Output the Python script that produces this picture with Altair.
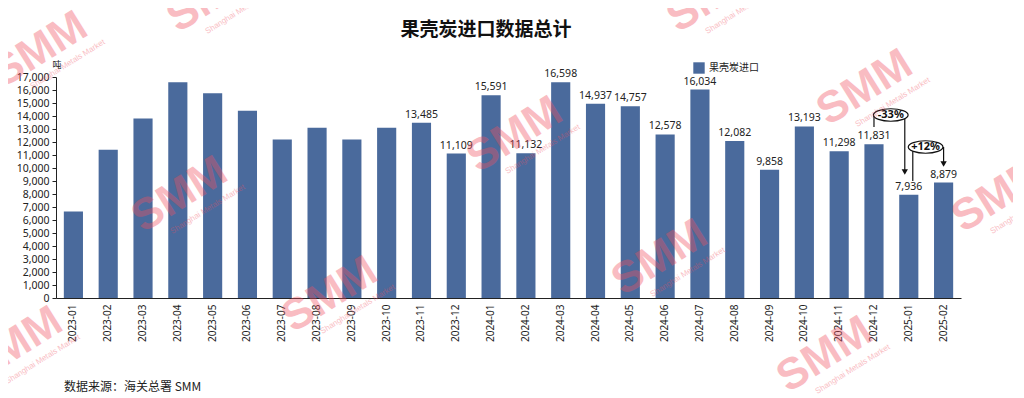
import altair as alt
import pandas as pd

months = ["2023-01", "2023-02", "2023-03", "2023-04", "2023-05", "2023-06", "2023-07",
          "2023-08", "2023-09", "2023-10", "2023-11", "2023-12", "2024-01", "2024-02",
          "2024-03", "2024-04", "2024-05", "2024-06", "2024-07", "2024-08", "2024-09",
          "2024-10", "2024-11", "2024-12", "2025-01", "2025-02"]
values = [6650, 11400, 13800, 16600, 15750, 14400, 12200, 13100, 12200, 13100, 13485,
          11109, 15591, 11132, 16598, 14937, 14757, 12578, 16034, 12082, 9858, 13193,
          11298, 11831, 7936, 8879]
labeled = [False] * 10 + [True] * 16
series_name = "果壳炭进口"
title_text = "果壳炭进口数据总计"
unit_text = "吨"
source_text = "数据来源：海关总署 SMM"
y_ticks = list(range(0, 17001, 1000))

# annotation brackets
ann_labels = ["-33%", "+12%"]
ann_mid_month = ["2025-01", "2025-02"]
ann_level = [14077, 11615]
rule_month = ["2024-12", "2025-01", "2025-01", "2025-02"]
rule_y = [13150, 14077, 11615, 11615]
rule_y2 = [14077, 9700, 9000, 10300]
rule_off = [0, -4, 4, 0]
arrow_month = ["2025-01", "2025-02"]
arrow_y = [9700, 10300]
arrow_off = [-4, 0]

# decorative watermark anchors (pixels, relative to plot origin)
wm_x = [-16, 159, 459, 659, 809, 124, 604, 274, -41, 769, 944]
wm_y = [-27, -82, 58, -82, 11, 118, 181, 218, 268, 278, 118]

BLUE = "#4a6a9c"
FONT = "Noto Sans"
CJK = "Noto Sans CJK SC"

df = pd.DataFrame({"month": months, "value": values, "series": series_name, "show": labeled})
ann = pd.DataFrame({"month": ann_mid_month, "y": ann_level, "label": ann_labels})
rules = pd.DataFrame({"month": rule_month, "y": rule_y, "y2": rule_y2, "off": rule_off})
arrows = pd.DataFrame({"month": arrow_month, "y": arrow_y, "off": arrow_off})

xscale = alt.Scale(paddingInner=0.45, paddingOuter=0.225)
yscale = alt.Scale(domain=[0, 17000], nice=False)


def xo():
    return alt.X("month:N", sort=months, scale=xscale, axis=None, title=None)


def yo(field):
    return alt.Y(field, scale=yscale, axis=None, title=None)


bars = alt.Chart(df).mark_bar(color=BLUE).encode(
    x=alt.X("month:N", sort=months, title=None, scale=xscale,
            axis=alt.Axis(labelAngle=-90, labelFontSize=10, labelColor="#222", labelFont=FONT,
                          ticks=False, domainColor="#222", labelPadding=6)),
    y=alt.Y("value:Q", scale=yscale, title=None,
            axis=alt.Axis(values=y_ticks, format=",d", grid=False, labelFontSize=10.5,
                          labelColor="#222", labelFont=FONT, domainColor="#222",
                          tickColor="#222", tickSize=4, labelPadding=3, labelOverlap=False)),
    color=alt.Color("series:N", scale=alt.Scale(range=[BLUE]),
                    legend=alt.Legend(title=None, orient="none", legendX=637, legendY=-15,
                                      symbolType="square", symbolSize=130, labelFontSize=10,
                                      labelFont=CJK, labelColor="#222", symbolStrokeWidth=0)),
)

labels = alt.Chart(df).transform_filter("datum.show").mark_text(
    dy=-8, fontSize=10.5, font=FONT, color="#222").encode(
    x=xo(), y=yo("value:Q"), text=alt.Text("value:Q", format=",d"))

layers = [bars, labels]
for off in sorted(set(rule_off)):
    sub = rules[rules.off == off]
    layers.append(alt.Chart(sub).mark_rule(color="#111", strokeWidth=1.2, xOffset=off).encode(
        x=xo(), y=yo("y:Q"), y2="y2:Q"))
for off in sorted(set(arrow_off)):
    sub = arrows[arrows.off == off]
    layers.append(alt.Chart(sub).mark_point(shape="triangle-down", filled=True, color="#111",
                                            size=40, opacity=1, xOffset=off).encode(
        x=xo(), y=yo("y:Q")))

ellipse = "M -1 0 A 1 0.36 0 1 0 1 0 A 1 0.36 0 1 0 -1 0 Z"
layers.append(alt.Chart(ann).mark_point(shape=ellipse, filled=True, fill="white", stroke="#111",
                                        strokeWidth=1.2, size=1200, opacity=1, xOffset=-18).encode(
    x=xo(), y=yo("y:Q")))
layers.append(alt.Chart(ann).mark_text(fontSize=11, fontWeight="bold", font=FONT, color="#111",
                                       xOffset=-18).encode(
    x=xo(), y=yo("y:Q"), text="label:N"))

# watermarks (decoration, pixel placed)
one = pd.DataFrame({"t": [""]})
for wx, wy in zip(wm_x, wm_y):
    layers.append(alt.Chart(one).mark_text(text="SMM", fontSize=44, fontWeight=900,
                                           font="Liberation Sans", color="#f05060",
                                           opacity=0.38, angle=328).encode(
        x=alt.value(wx), y=alt.value(wy)))
    layers.append(alt.Chart(one).mark_text(text="Shanghai Metals Market", fontSize=8,
                                           font="Liberation Sans", color="#f05060",
                                           opacity=0.38, angle=328, dx=16, dy=27).encode(
        x=alt.value(wx), y=alt.value(wy)))

layers.append(alt.Chart(one).mark_text(
    text=title_text, fontSize=19, fontWeight="bold", font=CJK, color="#111").encode(
    x=alt.value(430), y=alt.value(-47)))
layers.append(alt.Chart(one).mark_text(text=unit_text, fontSize=9, font=CJK, color="#222").encode(
    x=alt.value(1), y=alt.value(-12)))
layers.append(alt.Chart(one).mark_text(
    text=source_text, fontSize=12, font=CJK, color="#222", align="left").encode(
    x=alt.value(8), y=alt.value(310)))

chart = alt.layer(*layers).resolve_axis(x="independent", y="independent").properties(
    width=905, height=221,
    autosize=alt.AutoSizeParams(type="none"),
    padding={"left": 48, "top": 69, "right": 52, "bottom": 98},
).configure(background="white").configure_view(stroke=None, strokeWidth=0)

chart.save("out.html", embed_options={"renderer": "svg", "actions": False})
